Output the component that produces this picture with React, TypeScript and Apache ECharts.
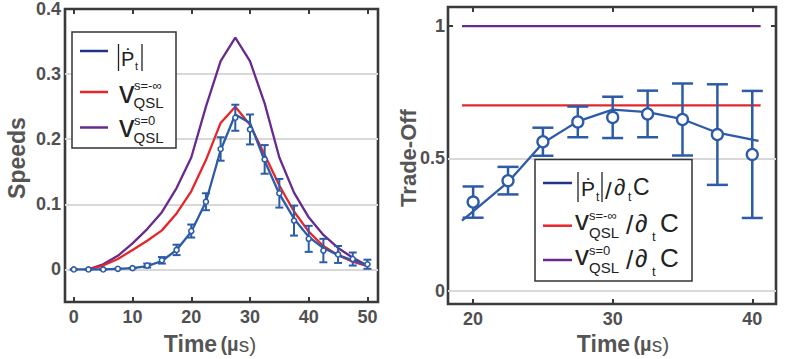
import React, { useEffect, useRef } from 'react';
import * as echarts from 'echarts';

// ---------- Left panel data (Speeds) ----------
const leftT = [0, 2.5, 5, 7.5, 10, 12.5, 15, 17.5, 20, 22.5, 25, 27.5, 30, 32.5, 35, 37.5, 40, 42.5, 45, 47.5, 50];
const leftMeasured = [0, 0, 0, 0.001, 0.002, 0.006, 0.014, 0.03, 0.059, 0.104, 0.185, 0.233, 0.215, 0.169, 0.117, 0.075, 0.047, 0.029, 0.023, 0.016, 0.008];
const leftErr = [0, 0, 0, 0, 0, 0.003, 0.005, 0.008, 0.01, 0.013, 0.018, 0.02, 0.023, 0.022, 0.022, 0.023, 0.02, 0.018, 0.013, 0.01, 0.007];
const leftModel = [0, 0, 0, 0.001, 0.002, 0.005, 0.013, 0.03, 0.058, 0.104, 0.183, 0.238, 0.225, 0.167, 0.116, 0.078, 0.05, 0.033, 0.022, 0.014, 0.006];
const leftCurveT = [2.5, 5, 7.5, 10, 12.5, 15, 17.5, 20, 22.5, 25, 27.5, 30, 32.5, 35, 37.5, 40, 42.5, 45, 47.5, 50];
const leftRed = [0, 0.006, 0.016, 0.03, 0.044, 0.06, 0.086, 0.12, 0.168, 0.225, 0.25, 0.222, 0.176, 0.129, 0.089, 0.058, 0.036, 0.022, 0.012, 0.005];
const leftPurple = [0, 0.008, 0.021, 0.04, 0.062, 0.088, 0.125, 0.172, 0.25, 0.32, 0.356, 0.32, 0.255, 0.172, 0.118, 0.08, 0.053, 0.033, 0.018, 0.006];
const leftXTicks = [0, 10, 20, 30, 40, 50];
const leftYTicks = [0, 0.1, 0.2, 0.3, 0.4];
const leftGridVals = [0, 0.1, 0.2, 0.3];

// ---------- Right panel data (Trade-Off) ----------
const rightT = [20, 22.5, 25, 27.5, 30, 32.5, 35, 37.5, 40];
const rightMeasured = [0.335, 0.416, 0.563, 0.638, 0.655, 0.668, 0.647, 0.59, 0.515];
const rightErr = [0.059, 0.052, 0.053, 0.058, 0.078, 0.088, 0.136, 0.19, 0.24];
const rightModelT = [19.2, 20, 22.5, 25, 27.5, 30, 32.5, 35, 37.5, 40, 40.45];
const rightModel = [0.265, 0.3, 0.41, 0.558, 0.64, 0.684, 0.675, 0.648, 0.597, 0.571, 0.566];
const rightBoundT = [19.2, 40.6];
const rightRed = [0.7, 0.7];
const rightPurple = [1, 1];
const rightXTicks = [20, 30, 40];
const rightYTicks = [0, 0.5, 1];
const rightGridVals = [0, 0.5];

const BLUE = '#2c5ba8';
const NAVY = '#22318a';
const RED = '#e6262b';
const PURPLE = '#682a8f';
const FRAME = '#3a3a3a';
const LABEL = '#505050';
const FONT = '"Liberation Sans", Arial, "DejaVu Sans", sans-serif';

const zip = (xs: number[], ys: number[]) => xs.map((x, i) => [x, ys[i]]);

function fmt(v: number) {
  const r = Math.round(v * 100) / 100;
  return String(r);
}

function xAx(gridIndex: number, min: number, max: number, ticks: number[], bottom: boolean) {
  return {
    type: 'value', gridIndex, min, max,
    position: bottom ? 'bottom' : 'top',
    axisLine: { show: false, onZero: false },
    axisTick: { show: true, inside: true, length: 5, customValues: ticks, lineStyle: { color: FRAME, width: 2 } },
    axisLabel: bottom
      ? { show: true, customValues: ticks, margin: 6, color: LABEL, fontFamily: FONT, fontWeight: 'bold', fontSize: 18, formatter: (v: number) => fmt(v) }
      : { show: false },
    splitLine: { show: false },
  };
}

function yAx(gridIndex: number, min: number, max: number, ticks: number[], left: boolean, margin: number) {
  return {
    type: 'value', gridIndex, min, max,
    position: left ? 'left' : 'right',
    axisLine: { show: false, onZero: false },
    axisTick: { show: true, inside: true, length: 5, customValues: ticks, lineStyle: { color: FRAME, width: 2 } },
    axisLabel: left
      ? { show: true, customValues: ticks, margin, color: LABEL, fontFamily: FONT, fontWeight: 'bold', fontSize: 18, formatter: (v: number) => fmt(v) }
      : { show: false },
    splitLine: { show: false },
  };
}

function errorSeries(xi: number, yi: number, ts: number[], means: number[], errs: number[], cap: number, lw: number) {
  return {
    type: 'custom', xAxisIndex: xi, yAxisIndex: yi, z: 4, silent: true,
    data: ts.map((t, i) => [t, means[i] - errs[i], means[i] + errs[i]]),
    encode: { x: 0, y: [1, 2] },
    renderItem: (params: any, api: any) => {
      const x = api.value(0);
      const lo = api.coord([x, api.value(1)]);
      const hi = api.coord([x, api.value(2)]);
      const style = { stroke: BLUE, lineWidth: lw };
      return {
        type: 'group',
        children: [
          { type: 'line', shape: { x1: lo[0], y1: lo[1], x2: hi[0], y2: hi[1] }, style },
          { type: 'line', shape: { x1: lo[0] - cap, y1: lo[1], x2: lo[0] + cap, y2: lo[1] }, style },
          { type: 'line', shape: { x1: hi[0] - cap, y1: hi[1], x2: hi[0] + cap, y2: hi[1] }, style },
        ],
      };
    },
  };
}

function lineSeries(xi: number, yi: number, data: number[][], color: string, width: number, z = 3) {
  return {
    type: 'line', xAxisIndex: xi, yAxisIndex: yi, data, z,
    showSymbol: false, symbol: 'none', silent: true,
    lineStyle: { color, width },
  };
}

function gridSeries(xi: number, yi: number, vals: number[]) {
  return {
    type: 'line', xAxisIndex: xi, yAxisIndex: yi, data: [], z: 1, silent: true,
    markLine: {
      z: 1, silent: true, symbol: ['none', 'none'], label: { show: false }, animation: false,
      lineStyle: { color: '#d8d8d8', width: 2, type: 'solid' },
      emphasis: { disabled: true },
      data: vals.map((v) => ({ yAxis: v })),
    },
  };
}

// text helper: x left, baseline y
function T(text: string, x: number, baseline: number, size: number, opt: any = {}) {
  return {
    type: 'text', x, y: baseline - 0.35 * size, silent: true, z: 20,
    style: {
      text,
      font: `${opt.weight || 'normal'} ${size}px ${FONT}`,
      fill: opt.fill || '#222',
      align: opt.align || 'left',
      verticalAlign: 'middle',
    },
  };
}
function L(x1: number, y1: number, x2: number, y2: number, color: string, w: number) {
  return { type: 'line', silent: true, z: 20, shape: { x1, y1, x2, y2 }, style: { stroke: color, lineWidth: w } };
}

function buildGraphic() {
  const g: any[] = [];
  // Left legend
  g.push({ type: 'rect', z: 19, silent: true, shape: { x: 72, y: 32, width: 104, height: 116 }, style: { fill: '#fff', stroke: '#333', lineWidth: 1.5 } });
  g.push(L(80, 51, 108, 51, NAVY, 2.5));
  g.push(L(118.5, 44, 118.5, 71, '#222', 1.3));
  g.push(T('\u1E56', 121, 65.5, 20));
  g.push(T('t', 135, 69.5, 11));
  g.push(L(142, 44, 142, 71, '#222', 1.3));
  g.push(L(80, 92, 108, 92, RED, 2.5));
  g.push(T('v', 119, 103.5, 31));
  g.push(T('s=-\u221E', 134, 90, 13));
  g.push(T('QSL', 133.5, 107.5, 15));
  g.push(L(80, 127.5, 108, 127.5, PURPLE, 2.5));
  g.push(T('v', 119, 137.5, 31));
  g.push(T('s=0', 134, 125, 13));
  g.push(T('QSL', 133.5, 142.5, 15));

  // Right legend
  g.push({ type: 'rect', z: 19, silent: true, shape: { x: 535, y: 159.5, width: 157, height: 121.5 }, style: { fill: '#fff', stroke: '#333', lineWidth: 1.5 } });
  g.push(L(543, 183, 572, 183, NAVY, 2.5));
  g.push(L(578, 172, 578, 202, '#222', 1.3));
  g.push(T('\u1E56', 581, 195.5, 21));
  g.push(T('t', 596, 201, 12));
  g.push(L(602, 172, 602, 202, '#222', 1.3));
  g.push(T('/', 605, 199, 24));
  g.push(T('\u2202', 614, 195.5, 23));
  g.push(T('t', 628, 201, 12));
  g.push(T('C', 633, 195.5, 23));

  g.push(L(543, 225.7, 572, 225.7, RED, 2.5));
  g.push(T('v', 575, 230, 28));
  g.push(T('s=-\u221E', 589, 220, 13));
  g.push(T('QSL', 589, 238, 15));
  g.push(T('/', 626, 234, 26));
  g.push(T('\u2202', 635, 232, 25));
  g.push(T('t', 652, 241, 13));
  g.push(T('C', 660, 232, 26));

  g.push(L(543, 260, 572, 260, PURPLE, 2.5));
  g.push(T('v', 575, 265, 28));
  g.push(T('s=0', 589, 255, 13));
  g.push(T('QSL', 589, 273, 15));
  g.push(T('/', 626, 269, 26));
  g.push(T('\u2202', 635, 267, 25));
  g.push(T('t', 652, 276, 13));
  g.push(T('C', 660, 267, 26));

  // Axis titles
  const timeRich = {
    a: { font: `bold 23px ${FONT}`, fill: '#555' },
    b: { font: `bold 20px ${FONT}`, fill: '#555' },
    c: { font: `normal 21px ${FONT}`, fill: '#555' },
  };
  g.push({ type: 'text', x: 210, y: 344, silent: true, style: { text: '{a|Time} {b|(\u00B5}{c|s)}', rich: timeRich, align: 'center', verticalAlign: 'middle' } });
  g.push({ type: 'text', x: 623, y: 344, silent: true, style: { text: '{a|Time} {b|(\u00B5}{c|s)}', rich: timeRich, align: 'center', verticalAlign: 'middle' } });
  g.push({ type: 'text', x: 17, y: 158, rotation: Math.PI / 2, silent: true, style: { text: 'Speeds', font: `bold 23px ${FONT}`, fill: '#555', align: 'center', verticalAlign: 'middle' } });
  g.push({ type: 'text', x: 408, y: 158, rotation: Math.PI / 2, silent: true, style: { text: 'Trade-Off', font: `bold 22px ${FONT}`, fill: '#555', align: 'center', verticalAlign: 'middle' } });
  return g;
}

export default function App() {
  const ref = useRef<HTMLDivElement>(null);
  useEffect(() => {
    if (!ref.current) return;
    const chart = echarts.init(ref.current, undefined, { renderer: 'svg' });
    chart.setOption({
      animation: false,
      backgroundColor: '#fff',
      textStyle: { fontFamily: FONT },
      grid: [
        { left: 65, top: 8, width: 313, height: 294, show: true, borderColor: FRAME, borderWidth: 2.6, backgroundColor: 'transparent' },
        { left: 448, top: 7, width: 328, height: 297, show: true, borderColor: FRAME, borderWidth: 2.6, backgroundColor: 'transparent' },
      ],
      xAxis: [
        xAx(0, -1.5, 51.8, leftXTicks, true),
        xAx(0, -1.5, 51.8, leftXTicks, false),
        xAx(1, 18.2, 41.7, rightXTicks, true),
        xAx(1, 18.2, 41.7, rightXTicks, false),
      ],
      yAxis: [
        yAx(0, -0.05, 0.4, leftYTicks, true, 4),
        yAx(0, -0.05, 0.4, leftYTicks, false, 4),
        yAx(1, -0.05, 1.072, rightYTicks, true, 3),
        yAx(1, -0.05, 1.072, rightYTicks, false, 3),
      ],
      series: [
        gridSeries(0, 0, leftGridVals),
        lineSeries(0, 0, zip(leftCurveT, leftPurple), PURPLE, 2.3),
        lineSeries(0, 0, zip(leftCurveT, leftRed), RED, 2.3),
        lineSeries(0, 0, zip(leftT, leftModel), BLUE, 2.3),
        errorSeries(0, 0, leftT, leftMeasured, leftErr, 4, 2),
        {
          type: 'scatter', xAxisIndex: 0, yAxisIndex: 0, z: 5, silent: true,
          data: zip(leftT, leftMeasured), symbol: 'circle', symbolSize: 5,
          itemStyle: { color: '#fff', borderColor: BLUE, borderWidth: 1.6, opacity: 1 },
        },
        gridSeries(2, 2, rightGridVals),
        lineSeries(2, 2, zip(rightBoundT, rightPurple), PURPLE, 2.3),
        lineSeries(2, 2, zip(rightBoundT, rightRed), RED, 2.3),
        lineSeries(2, 2, zip(rightModelT, rightModel), BLUE, 2.3),
        errorSeries(2, 2, rightT, rightMeasured, rightErr, 10.5, 2.5),
        {
          type: 'scatter', xAxisIndex: 2, yAxisIndex: 2, z: 5, silent: true,
          data: zip(rightT, rightMeasured), symbol: 'circle', symbolSize: 11,
          itemStyle: { color: '#fff', borderColor: BLUE, borderWidth: 2.3, opacity: 1 },
        },
      ],
      graphic: buildGraphic(),
    });
    return () => chart.dispose();
  }, []);
  return <div ref={ref} style={{ position: 'fixed', left: 0, top: 0, width: 798, height: 359, background: '#fff' }} />;
}
